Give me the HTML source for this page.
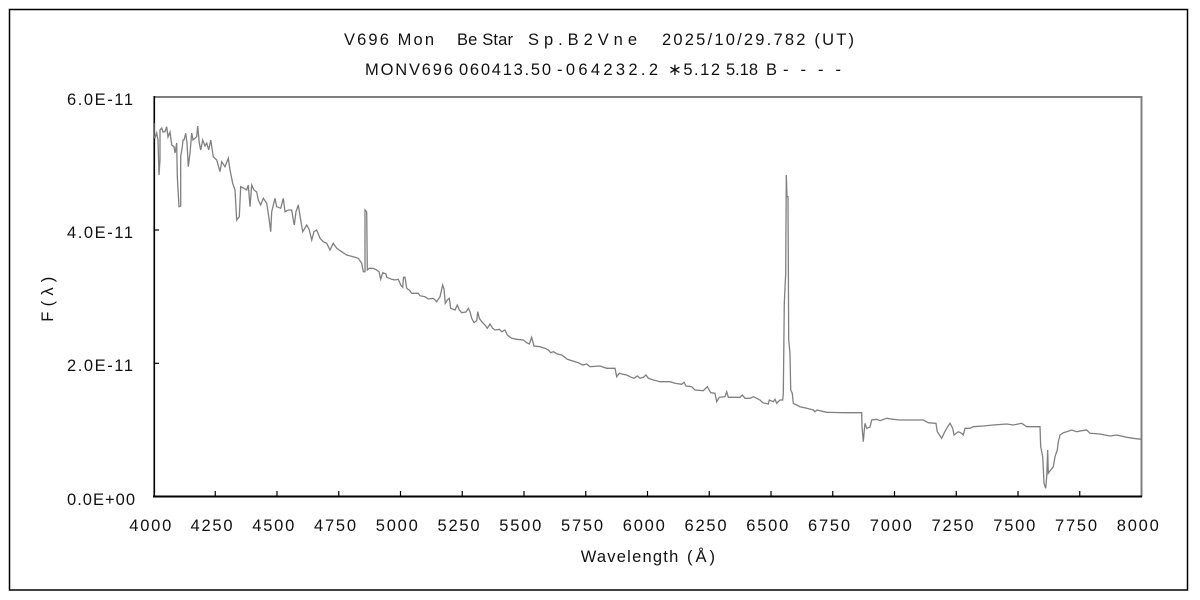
<!DOCTYPE html>
<html>
<head>
<meta charset="utf-8">
<style>
html,body{margin:0;padding:0;background:#fff;}
svg{display:block;}
text{font-family:"Liberation Sans","Noto Sans CJK JP",sans-serif;fill:#111;}
</style>
</head>
<body>
<svg width="1200" height="600" viewBox="0 0 1200 600" xmlns="http://www.w3.org/2000/svg">
<rect x="0" y="0" width="1200" height="600" fill="#fff"/>
<rect x="9.5" y="9.5" width="1178" height="580.5" fill="none" stroke="#000" stroke-width="1.5"/>

<!-- titles -->
<g font-size="16.5">
<text x="344" y="45" textLength="90" lengthAdjust="spacing">V696 Mon</text>
<text x="457" y="45" textLength="56" lengthAdjust="spacing">Be Star</text>
<text x="528" y="45" textLength="109" lengthAdjust="spacing">Sp.B2Vne</text>
<text x="662" y="45" textLength="192" lengthAdjust="spacing">2025/10/29.782 (UT)</text>
<text x="365" y="75" textLength="88" lengthAdjust="spacing">MONV696</text>
<text x="459" y="75" textLength="92" lengthAdjust="spacing">060413.50</text>
<text x="557" y="75" textLength="101" lengthAdjust="spacing">-064232.2</text>
<text x="668" y="75" textLength="52" lengthAdjust="spacing">∗5.12</text>
<text x="726" y="75" textLength="32" lengthAdjust="spacing">5.18</text>
<text x="766" y="75">B</text>
<text x="783" y="75" textLength="58" lengthAdjust="spacing">- - - -</text>
</g>

<!-- plot frame -->
<line x1="154" y1="97" x2="1142" y2="97" stroke="#808080" stroke-width="2"/>
<line x1="1141.5" y1="96" x2="1141.5" y2="497" stroke="#808080" stroke-width="2"/>
<line x1="153.5" y1="96" x2="153.5" y2="497" stroke="#808080" stroke-width="1"/>
<line x1="154.5" y1="96" x2="154.5" y2="497" stroke="#000" stroke-width="1.2"/>
<line x1="153" y1="496.5" x2="1142" y2="496.5" stroke="#000" stroke-width="2"/>

<!-- y ticks -->
<g stroke="#000" stroke-width="1.2">
<line x1="154" y1="230" x2="159" y2="230"/>
<line x1="154" y1="363.3" x2="159" y2="363.3"/>
</g>
<!-- x ticks -->
<g stroke="#000" stroke-width="1.2">
<line x1="215.25" y1="496" x2="215.25" y2="491"/>
<line x1="277" y1="496" x2="277" y2="491"/>
<line x1="338.75" y1="496" x2="338.75" y2="491"/>
<line x1="400.5" y1="496" x2="400.5" y2="491"/>
<line x1="462.25" y1="496" x2="462.25" y2="491"/>
<line x1="524" y1="496" x2="524" y2="491"/>
<line x1="585.75" y1="496" x2="585.75" y2="491"/>
<line x1="647.5" y1="496" x2="647.5" y2="491"/>
<line x1="709.25" y1="496" x2="709.25" y2="491"/>
<line x1="771" y1="496" x2="771" y2="491"/>
<line x1="832.75" y1="496" x2="832.75" y2="491"/>
<line x1="894.5" y1="496" x2="894.5" y2="491"/>
<line x1="956.25" y1="496" x2="956.25" y2="491"/>
<line x1="1018" y1="496" x2="1018" y2="491"/>
<line x1="1079.75" y1="496" x2="1079.75" y2="491"/>
</g>

<!-- y labels -->
<g font-size="16.5">
<text x="67" y="105" textLength="66" lengthAdjust="spacing">6.0E-11</text>
<text x="67" y="238" textLength="66" lengthAdjust="spacing">4.0E-11</text>
<text x="67" y="371" textLength="66" lengthAdjust="spacing">2.0E-11</text>
<text x="67" y="505" textLength="68" lengthAdjust="spacing">0.0E+00</text>
</g>

<!-- x labels -->
<g font-size="16.5">
<text x="129.3" y="531" textLength="42" lengthAdjust="spacing">4000</text>
<text x="190.5" y="531" textLength="42" lengthAdjust="spacing">4250</text>
<text x="252.3" y="531" textLength="42" lengthAdjust="spacing">4500</text>
<text x="314" y="531" textLength="42" lengthAdjust="spacing">4750</text>
<text x="375.8" y="531" textLength="42" lengthAdjust="spacing">5000</text>
<text x="437.5" y="531" textLength="42" lengthAdjust="spacing">5250</text>
<text x="499.3" y="531" textLength="42" lengthAdjust="spacing">5500</text>
<text x="561" y="531" textLength="42" lengthAdjust="spacing">5750</text>
<text x="622.8" y="531" textLength="42" lengthAdjust="spacing">6000</text>
<text x="684.5" y="531" textLength="42" lengthAdjust="spacing">6250</text>
<text x="746.3" y="531" textLength="42" lengthAdjust="spacing">6500</text>
<text x="808" y="531" textLength="42" lengthAdjust="spacing">6750</text>
<text x="869.8" y="531" textLength="42" lengthAdjust="spacing">7000</text>
<text x="931.5" y="531" textLength="42" lengthAdjust="spacing">7250</text>
<text x="993.3" y="531" textLength="42" lengthAdjust="spacing">7500</text>
<text x="1055" y="531" textLength="42" lengthAdjust="spacing">7750</text>
<text x="1116.8" y="531" textLength="42" lengthAdjust="spacing">8000</text>
</g>

<!-- axis titles -->
<g font-size="16.5">
<text x="580.7" y="562" textLength="97.6" lengthAdjust="spacing">Wavelength</text>
<text x="687" y="562" textLength="28" lengthAdjust="spacing">(Å)</text>
<text transform="translate(53,321.7) rotate(-90)" x="0" y="0" textLength="45" lengthAdjust="spacing">F(λ)</text>
</g>

<!-- spectrum -->
<polyline fill="none" stroke="#808080" stroke-width="1.3" stroke-linejoin="miter" points="
154,123 154,137 155,138 156.7,133 158,140 159,175 160,160 160,130 161.7,128 163,132 165,131.7 166.7,126.7 168,137 170,132 171.7,145 174,146.7 175,153 176.7,143 177.3,176.7 179,206.7 180.7,206 180.7,156.7 182.3,146.7 183,140 184,140 185.7,133.3 187,143 188.3,166.7 190,153 191.7,133 193,140 196.7,136.7 197.7,126 199.3,143 200.7,150 202.7,140 205,146 206.7,143 208.7,150 210.7,140 213.3,156.7 216.7,160 220,171.7 221.7,161.7 225,166.7 228.3,158.3 230,170 232.7,183.3 235,190 236.7,220 239.3,216.7 240.7,186.7 243.3,188 246.7,190 248.3,185 250,206.7 251.7,185 254,190 256.7,192 258.3,200 260.7,205 263.3,198.3 266.7,203.3 269,218.3 270.7,231.7 271.7,211.7 275,198.3 276.7,206.7 280.7,208.3 283.3,198.3 285,211.7 288.3,210 291.7,210 293.3,220 294.3,225 296,211.7 298.3,205 300.7,220 302.7,231.7 305,228 306.7,225 309.3,230 311.7,240 314,231.7 316.7,230 320,238.3 323.3,241.7 326.7,243.3 330,250 333.3,243.3 336.7,248.3 341.7,251.7 346.7,255 353.3,256.7 358.3,258.3 361.7,263.3 363.3,271.7 365,271.7 365,210 366.7,212 367.3,270 369.3,268.3 373,268.3 376.7,270 379,271.7 380.7,279.3 382.7,272.7 386,274 386.7,277.3 391.7,279.3 395,280 398.3,279.3 400.7,285 402.7,287.3 403.5,277.3 405,277.3 406.7,288.3 410,290.7 411.7,293.3 418.3,293.3 420,295.7 425,296.7 428.3,299 433.3,298.3 436.7,301.7 440,296.7 442.7,285 444,289 445.3,303.3 447.3,300 449.3,298.3 450.7,308.3 455,310 457.3,305 459.3,310 461.7,312.7 466,312 468.3,308.3 470,311.7 471.7,318.3 474,322.7 476.7,320.7 477.7,311.7 479.3,318.3 481.7,321.7 485,325 487.3,328.3 490,324 492.7,328.3 495,330 499.3,329.3 501.7,331.7 505,330 507.3,335 511.7,338.3 516.7,339.3 523.3,340 526.7,342.7 529.3,344 531.7,337.3 534,346 540,346.7 545,348.3 548.3,350 550.7,352.7 553.3,351.7 557.3,354 561.7,355 564,356.7 567.3,359.3 578.3,362.7 582.7,365 586.7,364 590,366.7 600,366 606.7,368.3 615,368.3 616.7,376.7 619.3,373.3 621.7,374 626.7,375 630,376.7 634,378.3 637.3,376 640,378.3 643.3,377.3 646,375 648.3,378.3 653.3,380 660,381.7 670,381.7 675,383.3 681.7,384.3 684,382.3 686,386 691.7,386.7 695,390 703.3,390.7 707.3,386.7 710.7,392.7 715,393.3 716.7,401.7 719.3,397.3 725,396.7 726.7,391.7 728.3,397.3 740,397.3 742.3,395 745,398.3 750,398.3 753.3,396.7 756.7,398.3 760,400 762.7,402.7 768.3,404 769.3,400 773.3,401.7 775,399.3 776.7,403.3 780,400 782.7,400 783.3,393.3 784.3,303.3 785.7,273.3 786.3,175 787,196.7 788,196.7 788.7,340 790,353.3 790.7,390 792.3,393.3 793.3,403.3 796.7,405 800,406.7 806.7,408.3 813.3,410 815,411.7 817,410 820,410.7 826.7,412.3 835,412.5 843.3,412.7 861.7,412.7 862,426.7 863.3,441.7 864.3,430 865,423.3 866.7,428.3 870,427 871.7,420 876.7,419.3 880,420.7 886.7,418.3 893.3,419.3 900,420 923.3,420 928.3,422.7 936,423.3 937.3,431.7 941.7,438.3 944,433.3 946.7,428.3 950,423.3 952.7,428.3 954,435 958.3,431.7 961.7,433.3 963.3,435 965,428.3 970,428.3 973.3,426.7 983.3,426 993.3,425 1006.7,424 1013.3,425 1021.7,423.3 1026.7,426.7 1040,426.7 1040.7,446.7 1042.7,456.7 1044,483.3 1045.7,488.3 1046.7,476.7 1047.7,450 1048.3,473.3 1050.7,470 1053.3,466.7 1055,456.7 1057.3,450 1058.3,441.7 1060,435 1063.3,432.7 1066.7,431.7 1071.7,430 1076.7,431.7 1081.7,430.7 1086.7,430 1090,433.3 1100,434 1110,436 1116.7,435 1126.7,437.3 1133.3,438.3 1141.7,439.3"/>
</svg>
</body>
</html>
